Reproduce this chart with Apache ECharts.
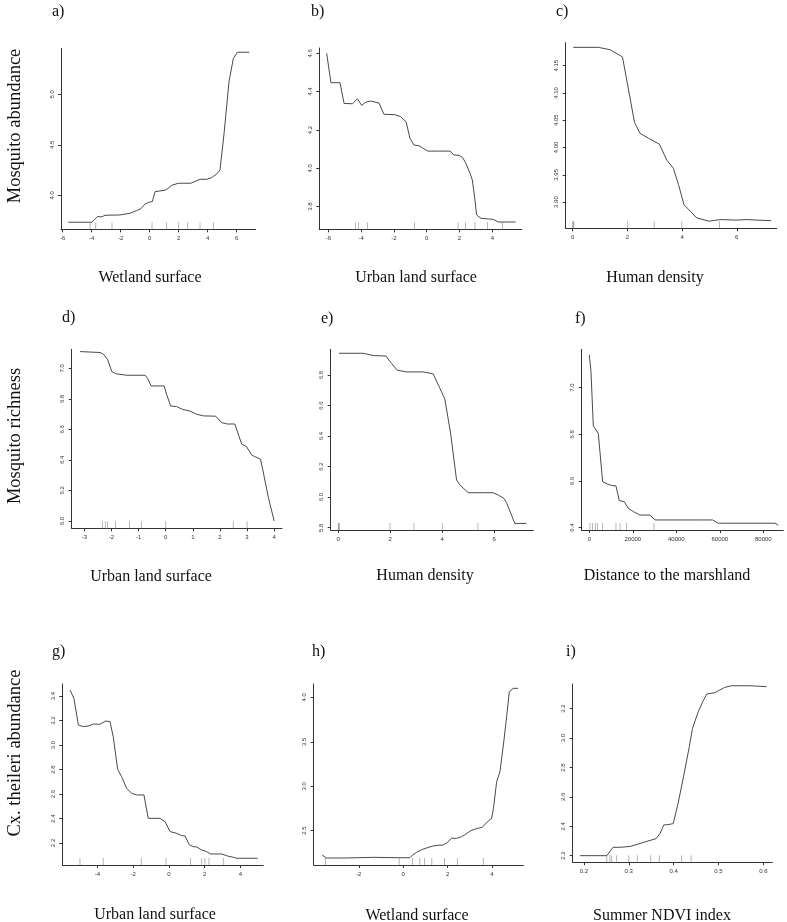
<!DOCTYPE html>
<html><head><meta charset="utf-8">
<script src="https://cdn.jsdelivr.net/npm/echarts@6/dist/echarts.min.js"></script>
<style>html,body{margin:0;padding:0;background:#fff}#c{width:787px;height:922px}</style>
</head><body><div id="c"></div>
<script>
// ---------- DATA ----------
const rowTitles = ['Mosquito abundance', 'Mosquito richness', 'Cx. theileri abundance'];
const panelLetters = ['a)', 'b)', 'c)', 'd)', 'e)', 'f)', 'g)', 'h)', 'i)'];
const xTitles = ['Wetland surface', 'Urban land surface', 'Human density',
  'Urban land surface', 'Human density', 'Distance to the marshland',
  'Urban land surface', 'Wetland surface', 'Summer NDVI index'];

// a) Wetland surface -> mosquito abundance
const xA = [-5.61,-4.0,-3.84,-3.61,-3.31,-3.08,-2.05,-1.36,-0.90,-0.60,-0.32,0.02,0.18,0.37,1.06,1.24,1.52,1.98,2.83,3.20,3.47,3.93,4.28,4.62,4.85,5.13,5.47,5.77,6.05,6.87];
const yA = [3.733,3.733,3.756,3.789,3.786,3.802,3.805,3.822,3.848,3.868,3.914,3.934,3.937,4.036,4.050,4.066,4.099,4.119,4.119,4.142,4.158,4.158,4.175,4.211,4.251,4.614,5.125,5.356,5.416,5.416];
const rugA = [-4.11,-3.72,-2.60,0.16,1.17,2.0,2.62,3.47,4.39];
const xTicksA = ['-6','-4','-2','0','2','4','6'];
const yTicksA = ['4.0','4.5','5.0'];

// b) Urban land surface -> mosquito abundance
const xB = [-6.1,-5.84,-5.29,-5.04,-4.52,-4.23,-3.97,-3.70,-3.42,-2.91,-2.61,-1.94,-1.59,-1.26,-1.02,-0.78,-0.45,-0.21,0.06,0.77,1.42,1.66,1.97,2.19,2.39,2.64,2.78,2.94,3.04,3.31,3.76,4.06,4.37,5.42];
const yB = [4.6,4.447,4.447,4.339,4.337,4.363,4.329,4.346,4.351,4.341,4.282,4.28,4.27,4.243,4.157,4.122,4.117,4.104,4.09,4.09,4.09,4.07,4.068,4.056,4.026,3.974,3.939,3.835,3.757,3.739,3.736,3.734,3.72,3.72];
const rugB = [-4.35,-4.15,-3.62,-0.74,1.91,2.37,2.94,3.70,4.61];
const xTicksB = ['-6','-4','-2','0','2','4'];
const yTicksB = ['3.8','4.0','4.2','4.4','4.6'];

// c) Human density -> mosquito abundance
const xC = [0.02,0.94,1.37,1.82,2.26,2.46,2.77,3.17,3.44,3.68,3.87,4.07,4.23,4.54,4.99,5.39,6.0,6.37,6.73,7.26];
const yC = [4.1835,4.1835,4.179,4.166,4.046,4.026,4.017,4.006,3.977,3.962,3.932,3.895,3.887,3.871,3.865,3.868,3.867,3.868,3.867,3.866];
const rugC = [0.0,0.02,0.04,2.01,2.98,3.99,5.37];
const xTicksC = ['0','2','4','6'];
const yTicksC = ['3.85','3.90','3.95','4.00','4.05','4.10','4.15'];

// d) Urban land surface -> mosquito richness
const xD = [-3.16,-2.42,-2.30,-2.15,-1.99,-1.81,-1.44,-0.76,-0.67,-0.54,-0.06,0.03,0.18,0.40,0.61,0.89,1.14,1.39,1.84,2.06,2.27,2.55,2.80,2.98,3.17,3.29,3.50,3.62,3.78,4.0];
const yD = [7.109,7.103,7.092,7.059,6.978,6.963,6.954,6.954,6.934,6.884,6.884,6.83,6.753,6.749,6.731,6.72,6.699,6.688,6.686,6.644,6.635,6.635,6.504,6.487,6.432,6.421,6.404,6.301,6.159,6.0];
const rugD = [-2.34,-2.23,-2.15,-1.85,-1.34,-0.90,0.0,2.49,3.0];
const xTicksD = ['-3','-2','-1','0','1','2','3','4'];
const yTicksD = ['6.0','6.2','6.4','6.6','6.8','7.0'];

// e) Human density -> mosquito richness
const xE = [0.03,0.96,1.35,1.83,2.05,2.27,2.63,3.27,3.65,3.88,4.10,4.32,4.55,4.68,5.0,5.58,5.96,6.15,6.37,6.47,6.79,7.24];
const yE = [6.942,6.942,6.927,6.924,6.876,6.831,6.820,6.820,6.807,6.724,6.641,6.418,6.112,6.079,6.029,6.029,6.029,6.014,5.992,5.964,5.828,5.828];
const rugE = [0.0,0.02,0.04,1.99,2.91,4.0,5.37];
const xTicksE = ['0','2','4','6'];
const yTicksE = ['5.8','6.0','6.2','6.4','6.6','6.8'];

// f) Distance to the marshland -> mosquito richness
const xF = [0,770,1840,4140,6130,8280,10270,12260,13790,16090,17930,20230,23300,27900,30190,37090,49350,56700,59300,61600,85360,86900];
const yF = [7.14,7.069,6.836,6.804,6.597,6.587,6.581,6.579,6.516,6.511,6.483,6.469,6.454,6.454,6.433,6.433,6.433,6.433,6.419,6.419,6.419,6.411];
const rugF = [300,1530,2760,3680,6130,12260,14100,17160,29730];
const xTicksF = ['0','20000','40000','60000','80000'];
const yTicksF = ['6.4','6.6','6.8','7.0'];

// g) Urban land surface -> Cx. theileri abundance
const xG = [-5.54,-5.32,-5.07,-4.79,-4.51,-4.24,-3.87,-3.53,-3.30,-3.12,-2.87,-2.65,-2.37,-2.09,-1.81,-1.40,-1.16,-0.50,-0.22,0.06,0.43,0.71,0.90,1.14,1.36,1.55,1.83,2.11,2.33,2.95,3.27,3.60,3.79,4.96];
const yG = [3.449,3.381,3.163,3.150,3.155,3.171,3.169,3.196,3.19,3.068,2.801,2.741,2.646,2.605,2.592,2.592,2.401,2.401,2.374,2.293,2.279,2.26,2.257,2.184,2.17,2.167,2.143,2.129,2.11,2.11,2.094,2.083,2.075,2.075];
const rugG = [-4.98,-3.68,-1.55,-0.17,1.21,1.83,2.01,2.24,3.04];
const xTicksG = ['-4','-2','0','2','4'];
const yTicksG = ['2.2','2.4','2.6','2.8','3.0','3.2','3.4'];

// h) Wetland surface -> Cx. theileri abundance
const xH = [-3.65,-3.46,-2.56,-1.35,-0.23,0.30,0.42,0.60,0.83,1.05,1.35,1.58,1.80,1.98,2.18,2.41,2.63,2.81,3.04,3.31,3.56,3.64,3.83,3.98,4.06,4.21,4.36,4.54,4.66,4.78,4.96,5.17];
const yH = [2.226,2.193,2.193,2.2,2.196,2.196,2.223,2.256,2.286,2.305,2.328,2.335,2.339,2.365,2.414,2.414,2.433,2.459,2.50,2.523,2.538,2.545,2.609,2.635,2.74,3.051,3.164,3.52,3.783,4.064,4.101,4.101];
const rugH = [-3.50,-0.18,0.42,0.75,0.96,1.29,1.86,2.44,3.61];
const xTicksH = ['-2','0','2','4'];
const yTicksH = ['2.5','3.0','3.5','4.0'];

// i) Summer NDVI index -> Cx. theileri abundance
const xI = [0.191,0.251,0.265,0.280,0.303,0.321,0.343,0.361,0.370,0.378,0.387,0.399,0.410,0.422,0.435,0.442,0.455,0.465,0.474,0.492,0.503,0.514,0.529,0.570,0.607];
const yI = [2.2,2.2,2.257,2.257,2.263,2.279,2.30,2.316,2.352,2.409,2.411,2.418,2.556,2.737,2.942,3.066,3.18,3.248,3.30,3.309,3.327,3.345,3.356,3.356,3.35];
const rugI = [0.251,0.258,0.262,0.273,0.300,0.319,0.349,0.368,0.418,0.439];
const xTicksI = ['0.2','0.3','0.4','0.5','0.6'];
const yTicksI = ['2.2','2.4','2.6','2.8','3.0','3.2'];

// ---------- LAYOUT ----------
const panelData = [
  [xA,yA,rugA,xTicksA,yTicksA],[xB,yB,rugB,xTicksB,yTicksB],[xC,yC,rugC,xTicksC,yTicksC],
  [xD,yD,rugD,xTicksD,yTicksD],[xE,yE,rugE,xTicksE,yTicksE],[xF,yF,rugF,xTicksF,yTicksF],
  [xG,yG,rugG,xTicksG,yTicksG],[xH,yH,rugH,xTicksH,yTicksH],[xI,yI,rugI,xTicksI,yTicksI]
];
const layout = [
  {g:[61,48.3,194.7,181], xr:[-6.117,7.31], yr:[3.663,5.455]},
  {g:[319.3,48,202.4,181.3], xr:[-6.55,5.79], yr:[3.682,4.628]},
  {g:[565.7,42.7,211,185.6], xr:[-0.256,7.46], yr:[3.852,4.192]},
  {g:[71.7,349.3,210.3,179], xr:[-3.47,4.29], yr:[5.952,7.124]},
  {g:[330.7,349.3,202.6,180.7], xr:[-0.29,7.5], yr:[5.785,6.968]},
  {g:[581.7,349.3,201.6,180.7], xr:[-3494,89195], yr:[6.39,7.164]},
  {g:[62.3,684,201,181], xr:[-5.97,5.28], yr:[2.02,3.498]},
  {g:[313.7,684,209.6,181], xr:[-4.03,5.41], yr:[2.114,4.15]},
  {g:[572.7,684,199.6,178.3], xr:[0.175,0.620], yr:[2.155,3.368]}
];
const letterPos = [[52,12],[311,12],[556,12],[62,318],[321,319],[575,319],[52,652],[312,652],[566,652]];
const xTitlePos = [[150,278],[416,278],[655,278],[151,577],[425,576],[667,576],[155,915],[417,916],[662,916]];
const rowTitlePos = [[15,126],[15,436],[15,753]];

const LINE = '#4a4a4a', AX = '#333', RUG = '#8c8c8c';
const serif = '"Liberation Serif", "DejaVu Serif", serif';
const sans = '"Liberation Sans", Arial, sans-serif';

const grids = [], xAxes = [], yAxes = [], series = [], graphics = [];
panelData.forEach((p, i) => {
  const [xs, ys, rug, xt, yt] = p;
  const L = layout[i];
  grids.push({left:L.g[0], top:L.g[1], width:L.g[2], height:L.g[3], containLabel:false});
  const xv = xt.map(parseFloat), yv = yt.map(parseFloat);
  const xLab = {}; xt.forEach(t => xLab[parseFloat(t)] = t);
  const yLab = {}; yt.forEach(t => yLab[parseFloat(t)] = t);
  xAxes.push({
    type:'value', gridIndex:i, min:L.xr[0], max:L.xr[1],
    axisLine:{show:true, onZero:false, lineStyle:{color:AX, width:1}},
    axisTick:{show:true, customValues:xv, length:3, lineStyle:{color:AX}},
    axisLabel:{show:true, customValues:xv, fontSize:6, color:AX, fontFamily:sans, margin:6,
      formatter:v => xLab[v] !== undefined ? xLab[v] : String(v)},
    splitLine:{show:false}
  });
  yAxes.push({
    type:'value', gridIndex:i, min:L.yr[0], max:L.yr[1],
    axisLine:{show:true, onZero:false, lineStyle:{color:AX, width:1}},
    axisTick:{show:true, customValues:yv, length:3, lineStyle:{color:AX}},
    axisLabel:{show:true, customValues:yv, fontSize:6, color:AX, fontFamily:sans, margin:6, rotate:90,
      formatter:v => yLab[v] !== undefined ? yLab[v] : String(v)},
    splitLine:{show:false}
  });
  series.push({
    type:'line', xAxisIndex:i, yAxisIndex:i, showSymbol:false, silent:true, z:3,
    data: xs.map((x, k) => [x, ys[k]]),
    lineStyle:{color:LINE, width:1}
  });
  series.push({
    type:'scatter', xAxisIndex:i, yAxisIndex:i, silent:true, z:2,
    symbol:'rect', symbolSize:[0.8, 7], symbolOffset:[0, -3.5],
    itemStyle:{color:RUG},
    data: rug.map(v => [v, L.yr[0]])
  });
  graphics.push({type:'text', x:letterPos[i][0], y:letterPos[i][1],
    style:{text:panelLetters[i], font:'16px ' + serif, fill:'#111', textAlign:'left', textVerticalAlign:'middle'}});
  graphics.push({type:'text', x:xTitlePos[i][0], y:xTitlePos[i][1],
    style:{text:xTitles[i], font:'16px ' + serif, fill:'#111', textAlign:'center', textVerticalAlign:'middle'}});
});
rowTitles.forEach((t, r) => {
  graphics.push({type:'text', x:rowTitlePos[r][0], y:rowTitlePos[r][1], rotation:Math.PI/2,
    style:{text:t, font:'18.5px ' + serif, fill:'#111', textAlign:'center', textVerticalAlign:'middle'}});
});

const chart = echarts.init(document.getElementById('c'), null, {renderer:'canvas'});
chart.setOption({
  animation:false, backgroundColor:'#fff',
  grid:grids, xAxis:xAxes, yAxis:yAxes, series:series, graphic:graphics
});
</script></body></html>
